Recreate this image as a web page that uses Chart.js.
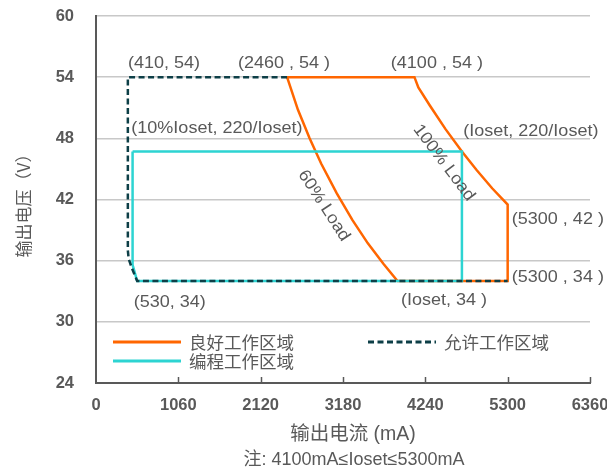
<!doctype html>
<html>
<head>
<meta charset="UTF-8">
<title>输出电压 - 输出电流 工作区域</title>
<style>
html,body{margin:0;padding:0;background:#fff;}
</style>
</head>
<body>
<canvas id="myChart" width="607" height="473"></canvas>
<script src="https://cdn.jsdelivr.net/npm/chart.js@4.4.1/dist/chart.umd.min.js"></script>
<script>
// 刻度
var x_ticks = [0, 1060, 2120, 3180, 4240, 5300, 6360];
var y_ticks = [24, 30, 36, 42, 48, 54, 60];

// 良好工作区域（橙）
var good_x = [2460, 4100, 4150, 4300, 4500, 4711, 4900, 5100, 5300, 5300, 3882, 3700, 3500, 3300, 3100, 2900, 2750, 2600, 2460];
var good_y = [54, 54, 53.0, 51.2, 48.9, 46.7, 44.9, 43.1, 41.5, 34, 34, 35.7, 37.7, 40, 42.6, 45.5, 48, 50.8, 54];

// 编程工作区域（青）
var prog_x = [471, 4711, 4711, 530, 471, 471];
var prog_y = [46.7, 46.7, 34, 34, 35.6, 46.7];

// 允许工作区域（虚线）
var allow_x = [2460, 410, 410, 420, 460, 530, 5300];
var allow_y = [54, 54, 37, 36.2, 35.3, 34, 34];

// 标注
var label_text = ["(410, 54)", "(2460 , 54 )", "(4100 , 54 )", "(10%Ioset, 220/Ioset)", "(Ioset, 220/Ioset)",
  "(5300 , 42 )", "(5300 , 34 )", "(Ioset, 34 )", "(530, 34)", "60% Load", "100% Load"];
var label_x = [875, 2420, 4389, 1557, 5598, 5946, 5946, 4480, 950, 2934, 4479];
var label_y = [55.4, 55.4, 55.4, 49.0, 48.66, 40.1, 34.4, 32.1, 31.9, 41.4, 45.6];
var label_rot = [0, 0, 0, 0, 0, 0, 0, 0, 0, 57, 53];

var series_names = ["良好工作区域", "编程工作区域", "允许工作区域"];

var C_ORANGE = "#ff6600";
var C_CYAN = "#2dd4d2";
var C_DARK = "#0d3f47";
var C_TEXT = "#595959";

function pts(xs, ys){
  return xs.map(function(x, i){ return {x: x, y: ys[i]}; });
}

// 标注・图例・轴标题
var extras = {
  id: 'extras',
  afterDraw: function(chart){
    var ctx = chart.ctx, xs = chart.scales.x, ys = chart.scales.y, a = chart.chartArea;
    ctx.save();
    // x轴内侧刻度线
    ctx.strokeStyle = C_TEXT; ctx.lineWidth = 1.5;
    x_ticks.forEach(function(v){
      if (v === 0) return;
      var px = Math.round(xs.getPixelForValue(v)) + 0.5;
      ctx.beginPath(); ctx.moveTo(px, a.bottom); ctx.lineTo(px, a.bottom - 6); ctx.stroke();
    });
    // 数据标注
    ctx.fillStyle = C_TEXT;
    ctx.font = '17px "Liberation Sans", Arial, sans-serif';
    ctx.textAlign = 'center'; ctx.textBaseline = 'middle';
    for (var i = 0; i < label_text.length; i++){
      ctx.save();
      ctx.translate(xs.getPixelForValue(label_x[i]), ys.getPixelForValue(label_y[i]));
      ctx.rotate(label_rot[i] * Math.PI / 180);
      ctx.scale(1.06, 1);
      ctx.fillText(label_text[i], 0, 0);
      ctx.restore();
    }
    // 图例
    var lg = [
      {name: series_names[0], color: C_ORANGE, dash: [], x: a.left + 17, y: a.bottom - 41},
      {name: series_names[1], color: C_CYAN, dash: [], x: a.left + 17, y: a.bottom - 22},
      {name: series_names[2], color: C_DARK, dash: [6, 3.5], x: a.left + 272, y: a.bottom - 41}
    ];
    ctx.font = '17.5px "Noto Sans CJK SC", sans-serif';
    ctx.textAlign = 'left';
    lg.forEach(function(it){
      ctx.strokeStyle = it.color; ctx.lineWidth = 3; ctx.setLineDash(it.dash);
      ctx.beginPath(); ctx.moveTo(it.x, it.y); ctx.lineTo(it.x + 68, it.y); ctx.stroke();
      ctx.setLineDash([]);
      ctx.fillStyle = C_TEXT;
      ctx.fillText(it.name, it.x + 76, it.y);
    });
    // 轴标题
    ctx.textAlign = 'center';
    ctx.font = '19.5px "Liberation Sans", "Noto Sans CJK SC", sans-serif';
    ctx.fillText("输出电流 (mA)", a.left + 257, 435);
    ctx.font = '18px "Liberation Sans", "Noto Sans CJK SC", sans-serif';
    ctx.fillText("注: 4100mA≤Ioset≤5300mA", a.left + 258, 460);
    ctx.save();
    ctx.translate(24, (a.top + a.bottom) / 2 + 2);
    ctx.rotate(-Math.PI / 2);
    ctx.font = '17px "Noto Sans CJK SC", sans-serif';
    ctx.fillText("输出电压（V）", 0, 0);
    ctx.restore();
    ctx.restore();
  }
};

var ctx = document.getElementById("myChart");
var myChart = new Chart(ctx, {
  type: 'scatter',
  data: {
    datasets: [
      {
        label: series_names[2],
        data: pts(allow_x, allow_y),
        borderColor: C_DARK,
        borderWidth: 2.5,
        borderDash: [6, 3.5]
      },
      {
        label: series_names[1],
        data: pts(prog_x, prog_y),
        borderColor: C_CYAN,
        borderWidth: 2.5
      },
      {
        label: series_names[0],
        data: pts(good_x, good_y),
        borderColor: C_ORANGE,
        borderWidth: 2.5
      }
    ]
  },
  options: {
    responsive: false,
    animation: false,
    devicePixelRatio: 1,
    datasets: {
      scatter: {showLine: true, pointRadius: 0, pointHoverRadius: 0, tension: 0, fill: false}
    },
    layout: {padding: {top: 16, right: 17, left: 0, bottom: 0}},
    plugins: {
      legend: {display: false},
      tooltip: {enabled: false}
    },
    scales: {
      x: {
        type: 'linear',
        min: 0, max: 6360,
        afterBuildTicks: function(s){ s.ticks = x_ticks.map(function(v){ return {value: v}; }); },
        afterFit: function(s){ s.height = 90; s.paddingLeft = 0; s.paddingRight = 0; },
        ticks: {color: C_TEXT, font: {family: '"Liberation Sans", Arial, sans-serif', size: 16.5, weight: 'bold'}, padding: 13, maxRotation: 0,
          callback: function(v){ return String(v); }},
        grid: {display: false, drawTicks: false},
        border: {display: true, color: C_TEXT, width: 2}
      },
      y: {
        type: 'linear',
        min: 24, max: 60,
        afterBuildTicks: function(s){ s.ticks = y_ticks.map(function(v){ return {value: v}; }); },
        afterFit: function(s){ s.width = 96; s.paddingTop = 0; s.paddingBottom = 0; },
        ticks: {color: C_TEXT, font: {family: '"Liberation Sans", Arial, sans-serif', size: 16.5, weight: 'bold'}, padding: 22,
          callback: function(v){ return String(v); }},
        grid: {color: '#c8c8c8', lineWidth: 1.5, drawTicks: false},
        border: {display: true, color: C_TEXT, width: 2}
      }
    }
  },
  plugins: [extras]
});
</script>
</body>
</html>
